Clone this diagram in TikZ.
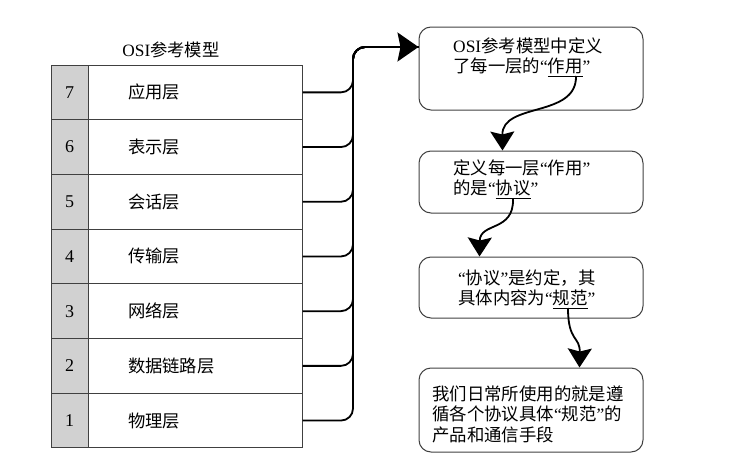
\documentclass[tikz,border=0pt]{standalone}
\usepackage{fontspec}
\setmainfont{Liberation Serif}
\newfontfamily\cjk{Noto Sans CJK SC}
\usetikzlibrary{arrows.meta,calc}
\newcommand\zh[1]{{\cjk #1}}
\tikzset{
  cellborder/.style={draw=black!75, line width=1pt},
  numcell/.style={cellborder, fill=black!18, minimum width=37pt, minimum height=54.7pt, inner sep=0pt, font=\fontsize{18}{20}\selectfont},
  namecell/.style={cellborder, fill=white, minimum width=214pt, minimum height=54.7pt, text width=134pt, inner xsep=40pt, inner ysep=0pt, align=left, font=\fontsize{17.3}{20}\selectfont},
  infobox/.style={draw=black!75, line width=1pt, rounded corners=12pt, minimum width=224pt, inner sep=0pt},
  infotext/.style={anchor=north west, inner sep=0pt, align=left, font=\fontsize{17.4}{20.5}\selectfont},
  conn/.style={draw=black, line width=1.8pt},
  bigtip/.style={-{Stealth[length=21pt,width=29pt,inset=3pt]}},
  tip/.style={-{Stealth[length=19pt,width=24pt,inset=3pt]}}
}
\begin{document}
\begin{tikzpicture}[x=1pt,y=-1pt]
\useasboundingbox (0,0) rectangle (740,461);
% title
\node[font=\fontsize{17.3}{20}\selectfont, inner sep=0pt] (title) at (171,50) {OSI\zh{参考模型}};
% table rows
\foreach \n/\lbl [count=\i from 0] in {7/应用层,6/表示层,5/会话层,4/传输层,3/网络层,2/数据链路层,1/物理层}{
  \node[numcell] (n\n) at (69.5,{92.35+54.7*\i}) {\n};
  \node[namecell] (r\n) at (195,{92.35+54.7*\i}) {\zh{\lbl}};
}
% boxes
\node[infobox, minimum height=83pt] (b1) at (531,68.5) {};
\node[infobox, minimum height=62pt] (b2) at (531,182) {};
\node[infobox, minimum height=61pt] (b3) at (531,287.5) {};
\node[infobox, minimum height=84pt] (b4) at (531,410) {};
\node[infotext] (t1) at (453,37.5) {OSI\zh{参考模型中定义}\\\zh{了每一层的}“\underline{\zh{作用}}”};
\node[infotext] (t2) at (453,159.5) {\zh{定义每一层}“\zh{作用}”\\\zh{的是}“\underline{\zh{协议}}”};
\node[infotext] (t3) at (458,269.5) {“\zh{协议}”\zh{是约定，其}\\\zh{具体内容为}“\underline{\zh{规范}}”};
\node[infotext] (t4) at (432,385.5) {\zh{我们日常所使用的就是遵}\\\zh{循各个协议具体}“\zh{规范}”\zh{的}\\\zh{产品和通信手段}};
% trunk
\coordinate (tc) at (353,47);
\foreach \n in {7,6,5,4,3,2}{
  \draw[conn, rounded corners=12pt] (r\n.east) -| (tc) -- (tc -| b1.west);
}
\draw[conn, bigtip, rounded corners=12pt] (r1.east) -| (tc) -- (tc -| b1.west);
% underline anchors
\coordinate (u1) at (576,76);
\coordinate (u2) at (513,199);
\coordinate (u3) at (568,308);
\draw[conn, tip] (u1) .. controls (577,118) and (502,102) .. ($(b2.north west)+(84,0)$);
\draw[conn, tip] (u2) .. controls (514,232) and (480,222) .. ($(b3.north west)+(61,0)$);
\draw[conn, tip] (u3) .. controls (568,342) and (580,336) .. ($(b4.north west)+(161,0)$);
\end{tikzpicture}
\end{document}
